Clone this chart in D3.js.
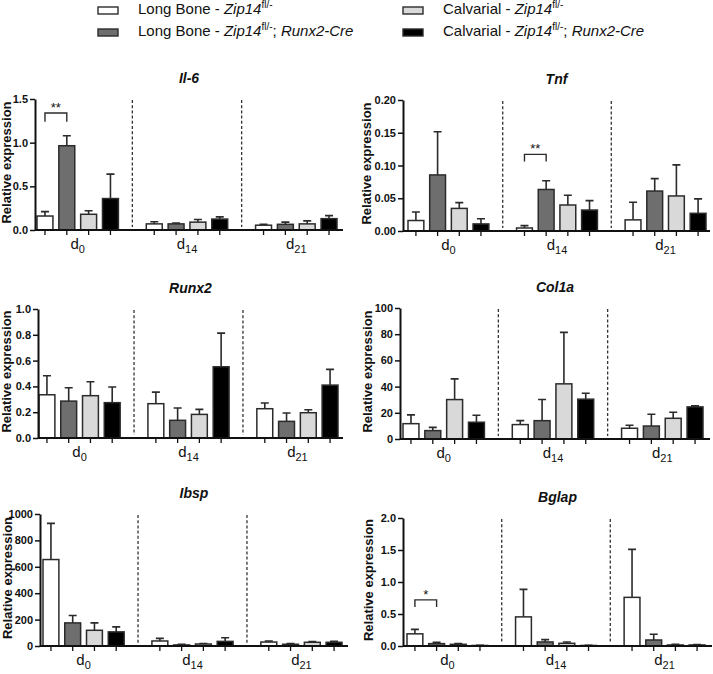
<!DOCTYPE html>
<html>
<head>
<meta charset="utf-8">
<script src="https://cdn.jsdelivr.net/npm/d3@7"></script>
<style>
  html, body { margin: 0; padding: 0; background: #fff; }
  svg { display: block; font-family: "Liberation Sans", Arial, sans-serif; }
</style>
</head>
<body>
<svg id="chart" width="713" height="674"></svg>
<script>
// ---------- DATA ----------
const groupSubs = ["0", "14", "21"];            // x categories: d0, d14, d21
const seriesKeys = ["lbFl", "lbCre", "cvFl", "cvCre"];
const seriesFill = ["#ffffff", "#6e6e6e", "#d9d9d9", "#000000"];

// values per gene: d0 (4 series), d14 (4 series), d21 (4 series)
const il6Mean  = [0.16, 0.965, 0.18, 0.36,   0.07, 0.07, 0.09, 0.125,   0.055, 0.065, 0.07, 0.13];
const il6Top   = [0.21, 1.08, 0.22, 0.64,    0.095, 0.08, 0.12, 0.15,   0.065, 0.09, 0.105, 0.165];
const il6Ticks = [0, 0.5, 1.0, 1.5];

const tnfMean  = [0.016, 0.0856, 0.0345, 0.0108,  0.0046, 0.0634, 0.0397, 0.032,  0.017, 0.061, 0.0535, 0.027];
const tnfTop   = [0.029, 0.1515, 0.0433, 0.0186,  0.0082, 0.0768, 0.0546, 0.0464, 0.044, 0.080, 0.101, 0.049];
const tnfTicks = [0, 0.05, 0.10, 0.15, 0.20];

const runx2Mean  = [0.335, 0.286, 0.328, 0.274,  0.266, 0.137, 0.183, 0.552,  0.227, 0.129, 0.196, 0.41];
const runx2Top   = [0.483, 0.39, 0.436, 0.395,   0.356, 0.232, 0.222, 0.813,  0.271, 0.194, 0.219, 0.532];
const runx2Ticks = [0, 0.2, 0.4, 0.6, 0.8, 1.0];

const col1aMean  = [11.7, 6.4, 30.1, 12.8,  11, 14, 42.1, 30.4,  8.2, 9.9, 15.8, 24.5];
const col1aTop   = [18.4, 8.9, 45.9, 18.1,  14, 30.1, 81.4, 34.9, 10.5, 18.9, 20.4, 25.3];
const col1aTicks = [0, 20, 40, 60, 80, 100];

const ibspMean  = [655, 175, 119, 107,  38, 8, 15, 35,  30, 13, 28, 28];
const ibspTop   = [929, 231, 175, 145,  58, 13, 18, 63, 38, 18, 33, 35];
const ibspTicks = [0, 200, 400, 600, 800, 1000];

const bglapMean  = [0.19, 0.037, 0.026, 0.008,  0.455, 0.063, 0.042, 0.008,  0.76, 0.094, 0.016, 0.016];
const bglapTop   = [0.26, 0.058, 0.037, 0.012,  0.885, 0.10, 0.063, 0.012,   1.51, 0.183, 0.026, 0.021];
const bglapTicks = [0, 0.5, 1.0, 1.5, 2.0];

// significance brackets: [group index, from series, to series, bracket value, leg value, label]
const il6Sig   = [[0, 0, 1, 1.34, 1.24, "**"]];
const tnfSig   = [[1, 0, 1, 0.117, 0.106, "**"]];
const bglapSig = [[0, 0, 1, 0.72, 0.61, "*"]];

// ---------- LAYOUT ----------
const panels = [
  { title: "Il-6",  mean: il6Mean,   top: il6Top,   ticks: il6Ticks,   fmt: ".1f", sig: il6Sig,   x0: 35,  x1: 343, yT: 99,  yB: 230, pl: 2, pr: 6, lab: 11 },
  { title: "Tnf",   mean: tnfMean,   top: tnfTop,   ticks: tnfTicks,   fmt: ".2f", sig: tnfSig,   x0: 403, x1: 710, yT: 100, yB: 231, pl: 5, pr: 4, lab: 371 },
  { title: "Runx2", mean: runx2Mean, top: runx2Top, ticks: runx2Ticks, fmt: ".1f", sig: [],       x0: 38,  x1: 343, yT: 309, yB: 438, pl: 1, pr: 5, lab: 11 },
  { title: "Col1a", mean: col1aMean, top: col1aTop, ticks: col1aTicks, fmt: "d",   sig: [],       x0: 400, x1: 710, yT: 308, yB: 439, pl: 3, pr: 7, lab: 372 },
  { title: "Ibsp",  mean: ibspMean,  top: ibspTop,  ticks: ibspTicks,  fmt: "d",   sig: [],       x0: 40,  x1: 348, yT: 514, yB: 646, pl: 3, pr: 6, lab: 12 },
  { title: "Bglap", mean: bglapMean, top: bglapTop, ticks: bglapTicks, fmt: ".1f", sig: bglapSig, x0: 403, x1: 712, yT: 518, yB: 646, pl: 4, pr: 7, lab: 373 }
];

const svg = d3.select("#chart");
const stroke = "#2b2b2b";

panels.forEach(p => {
  const g = svg.append("g");
  const y = d3.scaleLinear().domain([0, p.ticks[p.ticks.length - 1]]).range([p.yB, p.yT]);
  const xg = d3.scaleBand().domain(groupSubs).range([p.x0 + p.pl, p.x1 - p.pr]).paddingInner(0.255).paddingOuter(0);
  const xs = d3.scaleBand().domain(seriesKeys).range([0, xg.bandwidth()]).paddingInner(0.27).paddingOuter(0);

  const rows = [];
  groupSubs.forEach((gs, gi) => seriesKeys.forEach((sk, si) => {
    rows.push({ gs, gi, sk, si, v: p.mean[gi * 4 + si], t: p.top[gi * 4 + si] });
  }));
  const cx = d => xg(d.gs) + xs(d.sk) + xs.bandwidth() / 2;

  // title
  g.append("text").attr("x", (p.x0 + p.x1) / 2).attr("y", p.yT - 16)
    .attr("text-anchor", "middle").attr("font-size", 14).attr("font-weight", "bold")
    .attr("font-style", "italic").attr("fill", "#111").text(p.title);

  // y axis label
  g.append("text")
    .attr("transform", `translate(${p.lab},${(p.yT + p.yB) / 2 - 2}) rotate(-90)`)
    .attr("text-anchor", "middle").attr("font-size", 13).attr("font-weight", "bold")
    .attr("fill", "#111").text("Relative expression");

  // dashed separators
  for (let i = 1; i < groupSubs.length; i++) {
    const xa = xg(groupSubs[i - 1]) + xg.bandwidth();
    const xb = xg(groupSubs[i]);
    const xm = (xa + xb) / 2;
    g.append("line").attr("x1", xm).attr("x2", xm).attr("y1", p.yT + 1).attr("y2", p.yB - 3)
      .attr("stroke", "#333").attr("stroke-width", 1.3).attr("stroke-dasharray", "3,2.2");
  }

  // error bars
  g.selectAll(".err").data(rows).enter().append("path")
    .attr("d", d => {
      const c = cx(d), yt = y(d.t), yv = y(d.v);
      return `M${c},${yv}V${yt}M${c - 4},${yt}H${c + 4}`;
    })
    .attr("fill", "none").attr("stroke", stroke).attr("stroke-width", 1.6);

  // bars
  g.selectAll(".bar").data(rows).enter().append("rect")
    .attr("x", d => xg(d.gs) + xs(d.sk))
    .attr("y", d => y(d.v))
    .attr("width", xs.bandwidth())
    .attr("height", d => p.yB - y(d.v))
    .attr("fill", d => seriesFill[d.si])
    .attr("stroke", stroke).attr("stroke-width", 1.5);

  // x axis line and ticks
  g.append("line").attr("x1", p.x0).attr("x2", p.x1).attr("y1", p.yB).attr("y2", p.yB)
    .attr("stroke", "#111").attr("stroke-width", 2);
  g.selectAll(".xt").data(rows).enter().append("line")
    .attr("x1", cx).attr("x2", cx).attr("y1", p.yB).attr("y2", p.yB + 5)
    .attr("stroke", "#111").attr("stroke-width", 1.3);

  // x labels
  groupSubs.forEach(gs => {
    const t = g.append("text").attr("x", xg(gs) + xg.bandwidth() / 2).attr("y", p.yB + 19)
      .attr("text-anchor", "middle").attr("font-size", 15).attr("fill", "#111");
    t.append("tspan").text("d");
    t.append("tspan").attr("font-size", 11).attr("dy", 4).text(gs);
  });

  // y axis
  const ya = d3.axisLeft(y).tickValues(p.ticks).tickFormat(d3.format(p.fmt)).tickSize(5).tickSizeOuter(0).tickPadding(2);
  const yaG = g.append("g").attr("transform", `translate(${p.x0},0)`).call(ya);
  yaG.select(".domain").attr("stroke", "#111").attr("stroke-width", 2);
  yaG.selectAll(".tick line").attr("stroke", "#111").attr("stroke-width", 1.5);
  yaG.selectAll(".tick text").attr("font-size", 11).attr("font-weight", "bold").attr("fill", "#111")
    .attr("font-family", "'Liberation Sans', Arial, sans-serif");

  // significance
  p.sig.forEach(s => {
    const gs = groupSubs[s[0]];
    const xa = xg(gs) + xs(seriesKeys[s[1]]) + xs.bandwidth() / 2;
    const xb = xg(gs) + xs(seriesKeys[s[2]]) + xs.bandwidth() / 2;
    g.append("path").attr("d", `M${xa},${y(s[4])}V${y(s[3])}H${xb}V${y(s[4])}`)
      .attr("fill", "none").attr("stroke", stroke).attr("stroke-width", 1.4);
    g.append("text").attr("x", (xa + xb) / 2).attr("y", y(s[3]) - 1)
      .attr("text-anchor", "middle").attr("font-size", 13).attr("fill", "#111").text(s[5]);
  });
});

// ---------- LEGEND ----------
const legendItems = [
  { si: 0, prefix: "Long Bone - ", cre: false, x: 98,  y: 7 },
  { si: 1, prefix: "Long Bone - ", cre: true,  x: 98,  y: 29 },
  { si: 2, prefix: "Calvarial - ", cre: false, x: 403, y: 7 },
  { si: 3, prefix: "Calvarial - ", cre: true,  x: 403, y: 29 }
];
const lg = svg.append("g");
legendItems.forEach(it => {
  lg.append("rect").attr("x", it.x).attr("y", it.y).attr("width", 20).attr("height", 7)
    .attr("fill", seriesFill[it.si]).attr("stroke", stroke).attr("stroke-width", 1.4);
  const t = lg.append("text").attr("x", it.x + 40).attr("y", it.y + 7).attr("font-size", 15).attr("fill", "#111");
  t.append("tspan").text(it.prefix);
  t.append("tspan").attr("font-style", "italic").text("Zip14");
  t.append("tspan").attr("font-size", 10).attr("dy", -6).text("fl/-");
  if (it.cre) {
    t.append("tspan").attr("dy", 6).text("; ");
    t.append("tspan").attr("font-style", "italic").text("Runx2-Cre");
  }
});
</script>
</body>
</html>
